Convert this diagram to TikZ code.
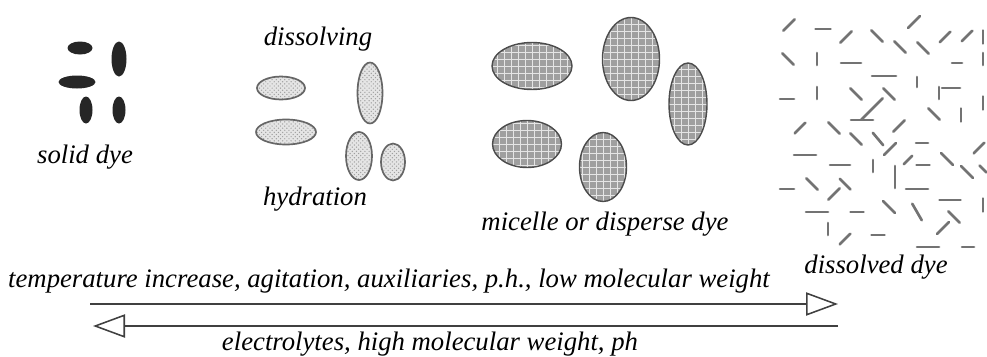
\documentclass[tikz,border=0pt]{standalone}
\usepackage{fontspec}
\setmainfont{Liberation Serif}
\usetikzlibrary{arrows.meta, patterns}

\tikzset{
  lbl/.style={font=\fontsize{19}{22}\selectfont\itshape, inner sep=0pt, anchor=base},
  soliddye/.style={fill=black!85},
  hydrated/.style={draw=black!60, line width=1.2pt, preaction={fill=gray!20},
    pattern=crosshatch dots, pattern color=gray!75},
  micelle/.style={draw=black!70, line width=1pt},
  flowline/.style={draw=black!75, line width=1.1pt,
    -{Triangle[open, length=0.8cm, width=0.58cm]}},
  dyebit/.style={draw=black!55, line width=1.9pt, line cap=round},
}

\begin{document}
\begin{tikzpicture}[x=0.025cm, y=-0.025cm]
  \useasboundingbox (0,0) rectangle (987,356);

  % solid dye
  \fill[soliddye] (80,48) ellipse [x radius=12.5, y radius=6.5];
  \fill[soliddye] (77,82) ellipse [x radius=18.5, y radius=6.5];
  \fill[soliddye] (119,59) ellipse [x radius=7.5, y radius=17.5];
  \fill[soliddye] (86,110) ellipse [x radius=6.5, y radius=13.5];
  \fill[soliddye] (119,110) ellipse [x radius=6.5, y radius=13.5];
  \node[lbl] (solid) at (85,163) {solid dye};

  % dissolving / hydration
  \draw[hydrated] (281,88) ellipse [x radius=24, y radius=11.5];
  \draw[hydrated] (286,132) ellipse [x radius=30, y radius=12.5];
  \draw[hydrated] (370,93) ellipse [x radius=12.5, y radius=30.5];
  \draw[hydrated] (359,156) ellipse [x radius=13, y radius=24];
  \draw[hydrated] (393,162) ellipse [x radius=12, y radius=18.5];
  \node[lbl] (dissolving) at (318,45) {dissolving};
  \node[lbl] (hydration) at (315,205) {hydration};

  % micelles
  \foreach \cx/\cy/\rx/\ry in {532/66/40/23.5, 631/59/28.5/41.5, 688/104/19/41,
                               527/144/34.5/23.5, 603/167/23.5/34.5} {
    \begin{scope}
      \clip (\cx,\cy) ellipse [x radius=\rx, y radius=\ry];
      \fill[gray!75] (\cx-\rx,\cy-\ry) rectangle (\cx+\rx,\cy+\ry);
      \foreach \g in {-42,-35,...,42} {
        \draw[white!80!gray, line width=0.5pt] (\cx+\g,\cy-\ry) -- (\cx+\g,\cy+\ry);
        \draw[white!80!gray, line width=0.5pt] (\cx-\rx,\cy+\g) -- (\cx+\rx,\cy+\g);
      }
    \end{scope}
    \draw[micelle] (\cx,\cy) ellipse [x radius=\rx, y radius=\ry];
  }
  \node[lbl] (micelle) at (605,230) {micelle or disperse dye};

  % dissolved dye: loose molecules
  \foreach \x/\y/\a/\l in {
      789/25/-45/16, 823/29/0/15, 846/37/-45/16, 877/36/45/16, 914/22/-45/17,
      900/47/45/16, 923/48/45/16, 945/37/-45/15, 967/36/-45/15, 983/37/90/13,
      788/59/45/16, 817/59/90/12, 851/63/0/20, 957/63/0/10, 983/59/90/12,
      884/76/0/24, 917/82/90/10, 939/93/90/12, 951/88/0/18,
      787/99/0/14, 817/93/90/12, 856/94/45/16, 889/94/45/16, 872/109/-45/30,
      934/114/45/16, 961/115/90/13, 983/103/90/13, 862/120/0/22,
      800/128/-45/15, 834/128/45/16, 856/139/45/16, 878/139/50/16, 899/126/-45/16,
      890/149/-45/17, 922/143/0/12, 979/148/-45/15,
      805/155/0/22, 840/165/0/20, 873/166/90/12, 895/177/90/22, 908/160/-45/12,
      923/165/0/13, 947/159/45/17, 967/172/45/17, 983/169/45/10,
      787/189/0/14, 812/184/45/16, 845/184/45/15, 834/194/-45/16, 917/189/0/22,
      950/200/0/21, 983/205/90/13,
      817/212/0/22, 857/212/0/13, 889/207/45/17, 917/212/60/19, 954/217/45/16,
      943/228/-45/17, 828/229/90/12, 845/239/-45/15, 878/235/0/13,
      928/247/0/22, 968/247/0/12} {
    \draw[dyebit] (\x,\y) ++(\a:-\l/2) -- ++(\a:\l);
  }
  \node[lbl] (dissolved) at (876,273) {dissolved dye};

  % reversible dissolution arrows
  \coordinate (fwdstart) at (90,304);
  \coordinate (fwdend) at (838,304);
  \coordinate (backstart) at (838,326);
  \coordinate (backend) at (93,326);
  \draw[flowline] (fwdstart) -- (fwdend);
  \draw[flowline] (backstart) -- (backend);
  \node[lbl] (forward) at (389,287)
    {temperature increase, agitation, auxiliaries, p.h., low molecular weight};
  \node[lbl] (backward) at (430,350) {electrolytes, high molecular weight, ph};
\end{tikzpicture}
\end{document}
